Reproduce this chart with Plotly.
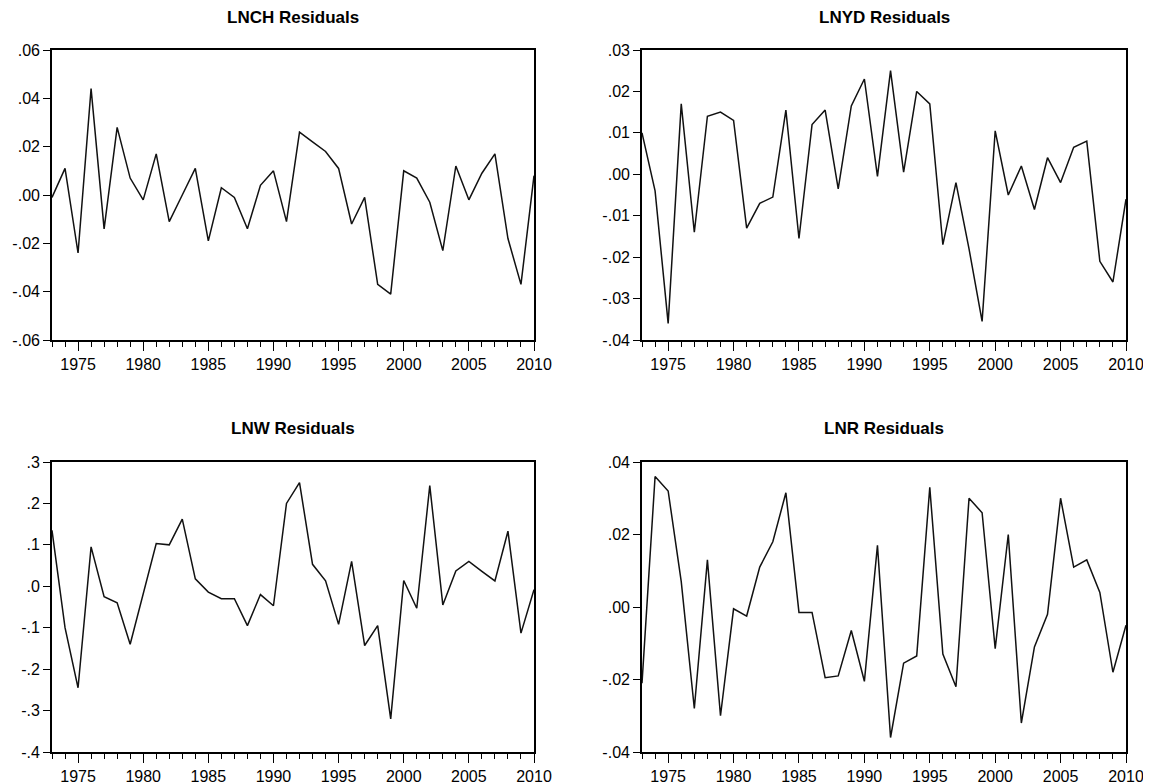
import plotly.graph_objects as go

years = list(range(1973, 2011))

lnch = [-0.001, 0.011, -0.024, 0.044, -0.014, 0.028, 0.007, -0.002, 0.017, -0.011,
        0.000, 0.011, -0.019, 0.003, -0.001, -0.014, 0.004, 0.010, -0.011, 0.026,
        0.022, 0.018, 0.011, -0.012, -0.001, -0.037, -0.041, 0.010, 0.007, -0.003,
        -0.023, 0.012, -0.002, 0.009, 0.017, -0.018, -0.037, 0.008]

lnyd = [0.010, -0.004, -0.036, 0.017, -0.014, 0.014, 0.015, 0.013, -0.013, -0.007,
        -0.0055, 0.0155, -0.0155, 0.012, 0.0155, -0.0035, 0.0165, 0.023, -0.0005, 0.025,
        0.0005, 0.020, 0.017, -0.017, -0.002, -0.018, -0.0355, 0.0105, -0.005, 0.002,
        -0.0085, 0.004, -0.002, 0.0065, 0.008, -0.021, -0.026, -0.006]

lnw = [0.135, -0.100, -0.245, 0.095, -0.025, -0.040, -0.140, -0.020, 0.103, 0.100,
       0.162, 0.018, -0.014, -0.030, -0.030, -0.095, -0.020, -0.047, 0.200, 0.250,
       0.053, 0.013, -0.092, 0.060, -0.143, -0.095, -0.320, 0.014, -0.053, 0.243,
       -0.045, 0.037, 0.060, 0.036, 0.013, 0.133, -0.113, -0.008]

lnr = [-0.021, 0.036, 0.032, 0.007, -0.028, 0.013, -0.030, -0.0005, -0.0025, 0.011,
       0.018, 0.0315, -0.0015, -0.0015, -0.0195, -0.019, -0.0065, -0.0205, 0.017, -0.036,
       -0.0155, -0.0135, 0.033, -0.013, -0.022, 0.030, 0.026, -0.0115, 0.020, -0.032,
       -0.011, -0.002, 0.030, 0.011, 0.013, 0.004, -0.018, -0.005]

titles = ["LNCH Residuals", "LNYD Residuals", "LNW Residuals", "LNR Residuals"]

lnch_ticks = [-0.06, -0.04, -0.02, 0.0, 0.02, 0.04, 0.06]
lnch_labels = ["-.06", "-.04", "-.02", ".00", ".02", ".04", ".06"]
lnyd_ticks = [-0.04, -0.03, -0.02, -0.01, 0.0, 0.01, 0.02, 0.03]
lnyd_labels = ["-.04", "-.03", "-.02", "-.01", ".00", ".01", ".02", ".03"]
lnw_ticks = [-0.4, -0.3, -0.2, -0.1, 0.0, 0.1, 0.2, 0.3]
lnw_labels = ["-.4", "-.3", "-.2", "-.1", ".0", ".1", ".2", ".3"]
lnr_ticks = [-0.04, -0.02, 0.0, 0.02, 0.04]
lnr_labels = ["-.04", "-.02", ".00", ".02", ".04"]

# the page body has an 8px margin: shift everything and fill the rest of the window
OFF = 8
W, H = 1151 - OFF, 784 - OFF
panels = [
    (lnch, lnch_ticks, lnch_labels, (52, 534), (50, 340)),
    (lnyd, lnyd_ticks, lnyd_labels, (642, 1126), (50, 340)),
    (lnw, lnw_ticks, lnw_labels, (52, 534), (462, 752)),
    (lnr, lnr_ticks, lnr_labels, (642, 1126), (462, 752)),
]
title_y = [18, 18, 428, 428]


def px_x(v):
    return (v - OFF) / W


def px_y(v):
    return 1 - (v - OFF) / H


fig = go.Figure()
font = "Liberation Sans, Arial, sans-serif"
layout = dict(width=W, height=H, margin=dict(l=0, r=0, t=0, b=0, autoexpand=False),
              paper_bgcolor="white", plot_bgcolor="white", showlegend=False,
              annotations=[])

for i, (vals, tv, tt, (x0, x1), (y0, y1)) in enumerate(panels):
    n = i + 1
    xa = "x" if n == 1 else f"x{n}"
    ya = "y" if n == 1 else f"y{n}"
    fig.add_trace(go.Scatter(x=years, y=vals, mode="lines",
                             line=dict(color="#111111", width=1.5),
                             xaxis=xa, yaxis=ya, hoverinfo="skip"))
    xkey = "xaxis" if n == 1 else f"xaxis{n}"
    ykey = "yaxis" if n == 1 else f"yaxis{n}"
    layout[xkey] = dict(domain=[px_x(x0), px_x(x1)], anchor=ya, range=[1973, 2010],
                        tick0=1975, dtick=5, ticks="outside", ticklen=9, tickwidth=1.4,
                        tickcolor="black", showline=True, linecolor="black", linewidth=1.7,
                        mirror=True, showgrid=False, zeroline=False, automargin=False,
                        ticklabeloverflow="allow",
                        tickfont=dict(family=font, size=16, color="black"),
                        minor=dict(dtick=1, tick0=1973, ticks="outside", ticklen=5,
                                   tickwidth=1.4, tickcolor="black", showgrid=False))
    layout[ykey] = dict(domain=[px_y(y1), px_y(y0)], anchor=xa,
                        range=[tv[0], tv[-1]], tickvals=tv, ticktext=tt,
                        ticks="outside", ticklen=7, tickwidth=1.4, tickcolor="black",
                        showline=True, linecolor="black", linewidth=1.7, mirror=True,
                        showgrid=False, zeroline=False, automargin=False,
                        ticklabeloverflow="allow",
                        tickfont=dict(family=font, size=16, color="black"))
    layout["annotations"].append(dict(text="<b>" + titles[i] + "</b>", xref="paper", yref="paper",
                                      x=px_x((x0 + x1) / 2), y=px_y(title_y[i]),
                                      xanchor="center", yanchor="middle", showarrow=False,
                                      font=dict(family=font, size=17, color="black")))

fig.update_layout(**layout)
fig.write_html("out.html")
